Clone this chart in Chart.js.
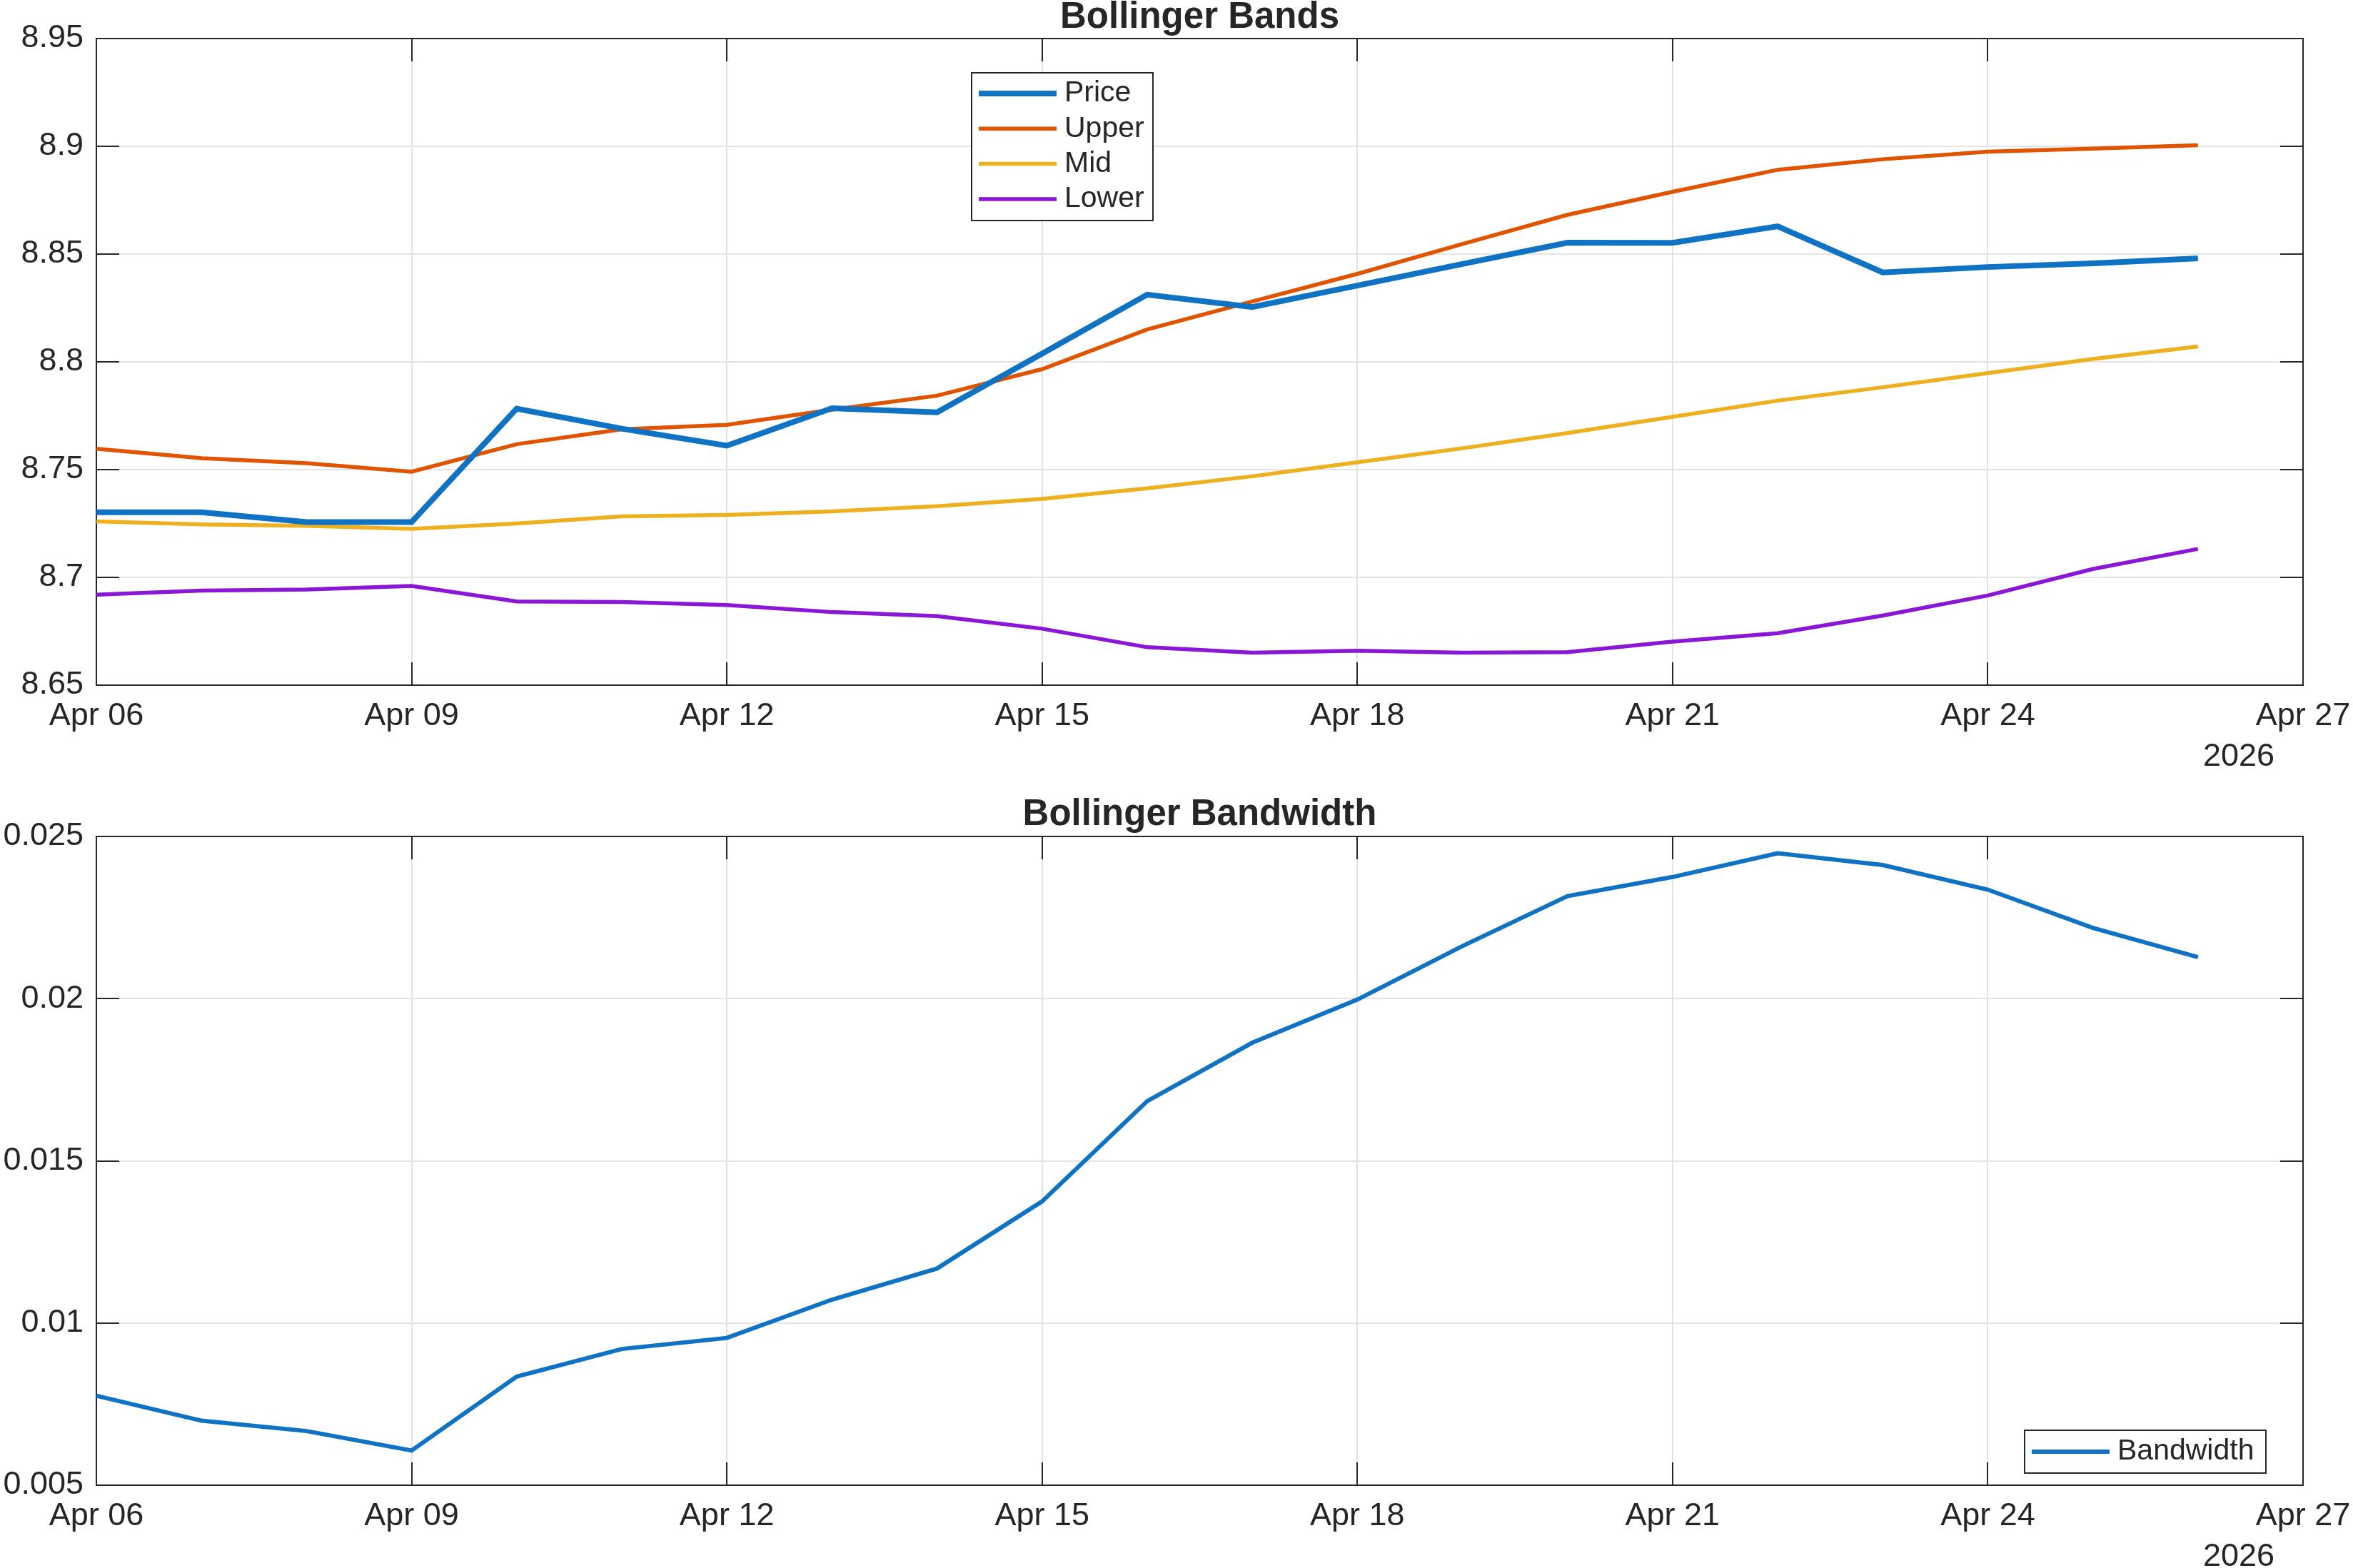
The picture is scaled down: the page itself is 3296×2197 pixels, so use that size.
<!DOCTYPE html>
<html>
<head>
    <title>Bollinger Bands</title>
    <meta charset="utf-8" />
    <script src="https://cdn.jsdelivr.net/npm/chart.js@4.4.1/dist/chart.umd.min.js"></script>
    <style>
        body { margin: 0; background: #fff; }
        #wrap { position: relative; width: 3296px; height: 2197px; }
        canvas { position: absolute; left: 0; }
        #top { top: 0; }
        #bottom { top: 1098px; }
    </style>
</head>
<body>

<div id="wrap">
    <canvas id="top" width="3296" height="1098"></canvas>
    <canvas id="bottom" width="3296" height="1099"></canvas>
</div>

<script>
    // daily closes, Apr 06 .. Apr 26 2026
    var days = ['Apr 06', 'Apr 07', 'Apr 08', 'Apr 09', 'Apr 10', 'Apr 11', 'Apr 12',
                'Apr 13', 'Apr 14', 'Apr 15', 'Apr 16', 'Apr 17', 'Apr 18', 'Apr 19',
                'Apr 20', 'Apr 21', 'Apr 22', 'Apr 23', 'Apr 24', 'Apr 25', 'Apr 26'];

    var price = [8.7302, 8.7302, 8.7257, 8.7257, 8.7783, 8.7690, 8.7611, 8.7785, 8.7766, 8.8038, 8.8312,
                 8.8254, 8.8354, 8.8454, 8.8553, 8.8552, 8.8629, 8.8415, 8.8440, 8.8457, 8.8480];
    var upper = [8.7597, 8.7553, 8.7530, 8.7490, 8.7618, 8.7687, 8.7708, 8.7778, 8.7843, 8.7966, 8.8150,
                 8.8280, 8.8408, 8.8547, 8.8682, 8.8789, 8.8891, 8.8940, 8.8975, 8.8989, 8.9005];
    var mid   = [8.7260, 8.7246, 8.7239, 8.7225, 8.7250, 8.7283, 8.7290, 8.7306, 8.7330, 8.7364, 8.7413,
                 8.7469, 8.7534, 8.7599, 8.7670, 8.7745, 8.7820, 8.7882, 8.7948, 8.8013, 8.8071];
    var lower = [8.6920, 8.6939, 8.6944, 8.6960, 8.6888, 8.6886, 8.6872, 8.6839, 8.6820, 8.6762, 8.6676,
                 8.6651, 8.6660, 8.6651, 8.6653, 8.6702, 8.6741, 8.6823, 8.6916, 8.7039, 8.7132];
    var bandwidth = [0.00776, 0.00699, 0.00667, 0.00607, 0.00835, 0.00920, 0.00954, 0.01072, 0.01168, 0.01375, 0.01684,
                     0.01864, 0.01997, 0.02162, 0.02316, 0.02375, 0.02448, 0.02412, 0.02336, 0.02218, 0.02128];

    var xTickLabels = ['Apr 06', 'Apr 09', 'Apr 12', 'Apr 15', 'Apr 18', 'Apr 21', 'Apr 24', 'Apr 27'];
    var yearLabel = '2026';

    var ink = '#262626';
    var fontFam = '"Liberation Sans", Arial, Helvetica, sans-serif';
    Chart.defaults.font.family = fontFam;
    Chart.defaults.color = ink;

    function pts(arr) {
        return arr.map(function (v, i) { return { x: i, y: v }; });
    }

    function fmt(v) {
        return String(Number(v.toFixed(4)));
    }

    // matlab-ish box: inward ticks on all four sides, frame, title, year label, legend box
    var matlabAxes = {
        id: 'matlabAxes',
        beforeDatasetsDraw: function (chart) {
            var ctx = chart.ctx, a = chart.chartArea, x = chart.scales.x, y = chart.scales.y;
            var tl = 32;
            ctx.save();
            ctx.strokeStyle = ink;
            ctx.lineWidth = 2;
            ctx.beginPath();
            x.ticks.forEach(function (t) {
                var px = Math.round(x.getPixelForValue(t.value));
                ctx.moveTo(px, a.bottom); ctx.lineTo(px, a.bottom - tl);
                ctx.moveTo(px, a.top); ctx.lineTo(px, a.top + tl);
            });
            y.ticks.forEach(function (t) {
                var py = Math.round(y.getPixelForValue(t.value));
                ctx.moveTo(a.left, py); ctx.lineTo(a.left + tl, py);
                ctx.moveTo(a.right, py); ctx.lineTo(a.right - tl, py);
            });
            ctx.stroke();
            ctx.strokeRect(a.left, a.top, a.right - a.left, a.bottom - a.top);
            ctx.restore();
        },
        afterDraw: function (chart, args, opts) {
            var ctx = chart.ctx, a = chart.chartArea;
            ctx.save();
            // title centred over the plot box
            ctx.fillStyle = ink;
            ctx.font = 'bold 51px ' + fontFam;
            ctx.textAlign = 'center';
            ctx.textBaseline = 'alphabetic';
            ctx.fillText(opts.title, (a.left + a.right) / 2, opts.titleBase);

            // year under the last tick
            ctx.font = '45px ' + fontFam;
            ctx.textAlign = 'right';
            ctx.textBaseline = 'middle';
            ctx.fillText(yearLabel, a.right - 40, a.bottom + 101);

            // legend
            var L = opts.legend;
            ctx.fillStyle = '#fff';
            ctx.fillRect(L.x, L.y, L.w, L.h);
            ctx.strokeStyle = ink;
            ctx.lineWidth = 2;
            ctx.strokeRect(L.x, L.y, L.w, L.h);
            ctx.font = '41px ' + fontFam;
            ctx.textAlign = 'left';
            chart.data.datasets.forEach(function (ds, i) {
                var cy = L.y + L.first + i * L.rowH;
                ctx.strokeStyle = ds.borderColor;
                ctx.lineWidth = ds.borderWidth;
                ctx.beginPath();
                ctx.moveTo(L.x + 10, cy);
                ctx.lineTo(L.x + 10 + L.sample, cy);
                ctx.stroke();
                ctx.fillStyle = ink;
                ctx.fillText(ds.label, L.x + 10 + L.sample + 11, cy);
            });
            ctx.restore();
        }
    };

    function baseOptions(yMin, yMax, yStep, axisH, padTop, titleText, titleBase, legend) {
        return {
            responsive: false,
            animation: false,
            devicePixelRatio: 1,
            layout: { padding: { left: 0, right: 70, top: padTop, bottom: 0 } },
            plugins: {
                legend: { display: false },
                tooltip: { enabled: false },
                title: { display: false },
                matlabAxes: { legend: legend, title: titleText, titleBase: titleBase }
            },
            scales: {
                x: {
                    type: 'linear',
                    min: 0,
                    max: 21,
                    afterFit: function (s) { s.height = axisH; s.paddingLeft = 0; s.paddingRight = 0; },
                    grid: { color: '#e3e3e3', lineWidth: 2, drawTicks: false },
                    border: { display: false },
                    ticks: {
                        stepSize: 3,
                        autoSkip: false,
                        maxRotation: 0,
                        padding: 17,
                        font: { size: 45 },
                        callback: function (v) { return xTickLabels[Math.round(v / 3)]; }
                    }
                },
                y: {
                    min: yMin,
                    max: yMax,
                    afterFit: function (s) { s.width = 135; s.paddingTop = 0; s.paddingBottom = 0; },
                    grid: { color: '#e3e3e3', lineWidth: 2, drawTicks: false },
                    border: { display: false },
                    ticks: {
                        stepSize: yStep,
                        padding: 18,
                        font: { size: 45 },
                        callback: function (v) { return fmt(v); }
                    }
                }
            }
        };
    }

    function line(label, data, color, width) {
        return {
            label: label,
            data: pts(data),
            borderColor: color,
            borderWidth: width,
            pointRadius: 0,
            tension: 0,
            fill: false,
            clip: 10
        };
    }

    new Chart(document.getElementById('top'), {
        type: 'line',
        data: {
            datasets: [
                line('Price', price, '#0F72C3', 8),
                line('Upper', upper, '#E05400', 5.5),
                line('Mid', mid, '#EDB120', 5.5),
                line('Lower', lower, '#8A17D6', 5.5)
            ]
        },
        options: baseOptions(8.65, 8.95, 0.05, 138, 54, 'Bollinger Bands', 39,
            { x: 1361, y: 102, w: 254, h: 207, first: 29, rowH: 49.3, sample: 109 }),
        plugins: [matlabAxes]
    });

    new Chart(document.getElementById('bottom'), {
        type: 'line',
        data: {
            datasets: [
                line('Bandwidth', bandwidth, '#0F72C3', 6)
            ]
        },
        options: baseOptions(0.005, 0.025, 0.005, 116, 74, 'Bollinger Bandwidth', 58,
            { x: 2836, y: 906, w: 338, h: 60, first: 30, rowH: 49.3, sample: 109 }),
        plugins: [matlabAxes]
    });
</script>

</body>
</html>
